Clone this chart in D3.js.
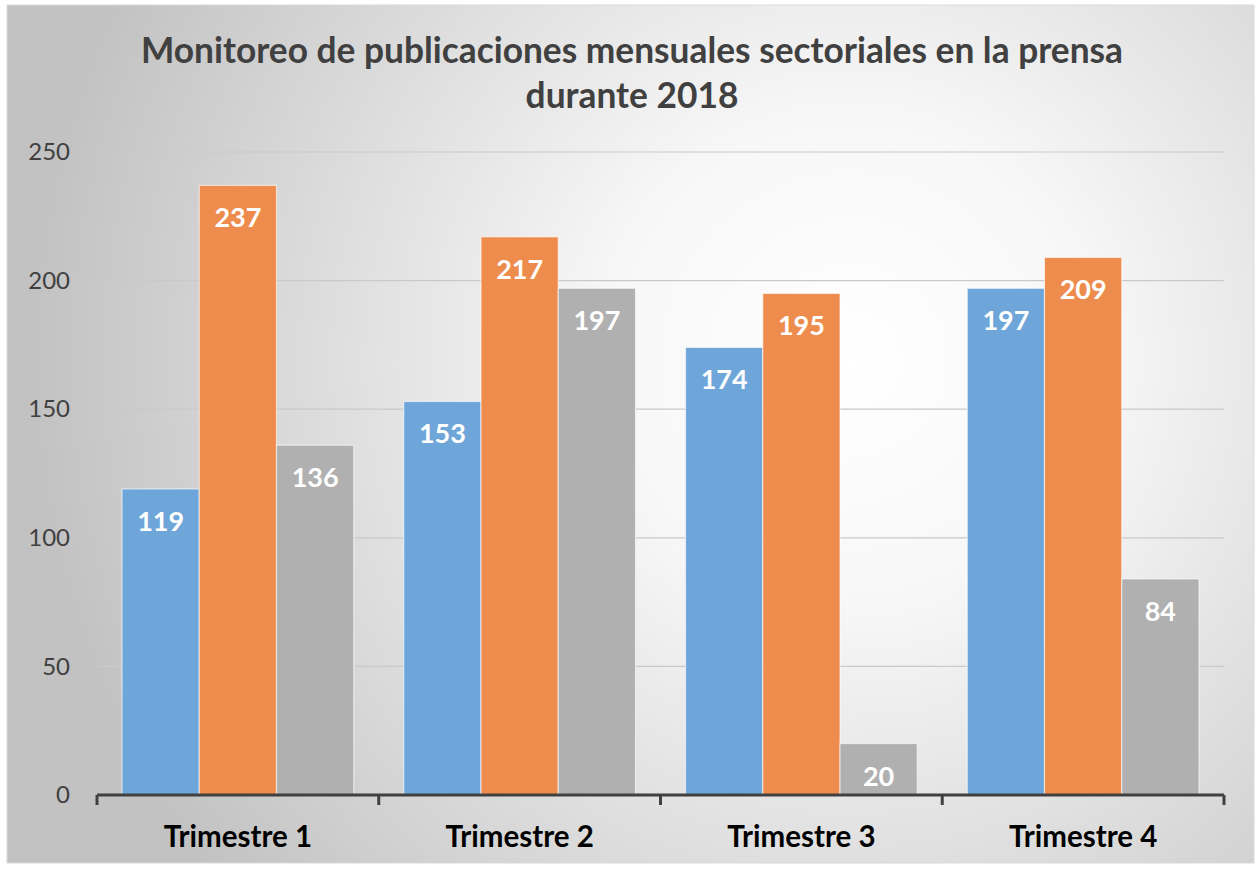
<!DOCTYPE html>
<html>
<head>
<meta charset="utf-8">
<script src="https://cdn.jsdelivr.net/npm/d3@7"></script>
<style>
  body { margin: 0; background: #fff; }
  svg { display: block; }
</style>
</head>
<body>
<div id="chart"></div>
<script>
const categories = ['Trimestre 1', 'Trimestre 2', 'Trimestre 3', 'Trimestre 4'];
const seriesNames = ['Serie 1', 'Serie 2', 'Serie 3'];
const serie1 = [119, 153, 174, 197];
const serie2 = [237, 217, 195, 209];
const serie3 = [136, 197, 20, 84];
const yTicks = [0, 50, 100, 150, 200, 250];
const titleLines = ['Monitoreo de publicaciones mensuales sectoriales en la prensa', 'durante 2018'];

const colors = ['#6fa6d9', '#ed8c4c', '#b0b0b0'];
const W = 1259, H = 869;
const margin = { top: 152, right: 35, bottom: 74, left: 97 };
const font = 'Lato, "Open Sans", sans-serif';

const svg = d3.select('#chart').append('svg')
  .attr('width', W)
  .attr('height', H);

const defs = svg.append('defs');
const grad = defs.append('radialGradient')
  .attr('id', 'bg')
  .attr('gradientUnits', 'userSpaceOnUse')
  .attr('cx', 850).attr('cy', 360).attr('r', 820);
grad.append('stop').attr('offset', '0%').attr('stop-color', '#ffffff');
grad.append('stop').attr('offset', '30%').attr('stop-color', '#f7f7f7');
grad.append('stop').attr('offset', '100%').attr('stop-color', '#c2c2c2');

svg.append('rect')
  .attr('x', 7).attr('y', 5)
  .attr('width', 1247).attr('height', 858)
  .attr('fill', 'url(#bg)')
  .attr('stroke', '#d9d9d9')
  .attr('stroke-width', 1);

const innerW = W - margin.left - margin.right;
const innerH = H - margin.top - margin.bottom;

const g = svg.append('g')
  .attr('transform', 'translate(' + margin.left + ',' + margin.top + ')');

const x0 = d3.scaleBand()
  .domain(categories)
  .range([0, innerW])
  .paddingInner(0)
  .paddingOuter(0);

const x1 = d3.scaleBand()
  .domain(seriesNames)
  .range([25, x0.bandwidth() - 25]);

const y = d3.scaleLinear()
  .domain([0, 250])
  .range([innerH, 0]);

// gridlines
g.selectAll('.grid')
  .data(yTicks.filter(d => d > 0))
  .enter().append('line')
  .attr('class', 'grid')
  .attr('x1', 0).attr('x2', innerW)
  .attr('y1', d => y(d)).attr('y2', d => y(d))
  .attr('stroke', '#c9c9c9')
  .attr('stroke-width', 1.2);

// y labels
const yAxis = d3.axisLeft(y).tickValues(yTicks).tickSize(0).tickPadding(27);
const yG = g.append('g').call(yAxis);
yG.select('.domain').remove();
yG.selectAll('text')
  .attr('font-family', font)
  .attr('font-size', 24)
  .attr('fill', '#404040');

const data = categories.map((c, i) => ({
  cat: c,
  vals: [serie1[i], serie2[i], serie3[i]]
}));

const groups = g.selectAll('.grp')
  .data(data)
  .enter().append('g')
  .attr('transform', d => 'translate(' + x0(d.cat) + ',0)');

groups.selectAll('rect')
  .data(d => d.vals.map((v, j) => ({ s: seriesNames[j], v: v, j: j })))
  .enter().append('rect')
  .attr('x', d => x1(d.s))
  .attr('y', d => y(d.v))
  .attr('width', x1.bandwidth())
  .attr('height', d => innerH - y(d.v))
  .attr('fill', d => colors[d.j])
  .attr('stroke', 'rgba(255,255,255,0.6)')
  .attr('stroke-width', 1.2);

groups.selectAll('.val')
  .data(d => d.vals.map((v, j) => ({ s: seriesNames[j], v: v, j: j })))
  .enter().append('text')
  .attr('class', 'val')
  .attr('x', d => x1(d.s) + x1.bandwidth() / 2)
  .attr('y', d => y(d.v) + 42)
  .attr('text-anchor', 'middle')
  .attr('font-family', font)
  .attr('font-weight', 'bold')
  .attr('font-size', 27)
  .attr('fill', '#ffffff')
  .text(d => d.v);

// x axis
const xAxis = d3.axisBottom(x0).tickSize(0).tickPadding(31);
const xG = g.append('g')
  .attr('transform', 'translate(0,' + innerH + ')')
  .call(xAxis);
xG.select('.domain').remove();
xG.selectAll('text')
  .attr('font-family', font)
  .attr('font-weight', 'bold')
  .attr('font-size', 29.5)
  .attr('fill', '#000');

g.append('line')
  .attr('x1', 0).attr('x2', innerW)
  .attr('y1', innerH).attr('y2', innerH)
  .attr('stroke', '#404040')
  .attr('stroke-width', 3);

const boundaries = [0].concat(categories.map(c => x0(c) + x0.bandwidth()));
g.selectAll('.tk')
  .data(boundaries)
  .enter().append('line')
  .attr('class', 'tk')
  .attr('x1', d => d).attr('x2', d => d)
  .attr('y1', innerH).attr('y2', innerH + 10)
  .attr('stroke', '#404040')
  .attr('stroke-width', 3);

// title
svg.append('text')
  .attr('text-anchor', 'middle')
  .attr('font-family', font)
  .attr('font-weight', 'bold')
  .attr('font-size', 35.3)
  .attr('fill', '#404040')
  .selectAll('tspan')
  .data(titleLines)
  .enter().append('tspan')
  .attr('x', 632)
  .attr('y', (d, i) => 63 + i * 45)
  .text(d => d);
</script>
</body>
</html>
